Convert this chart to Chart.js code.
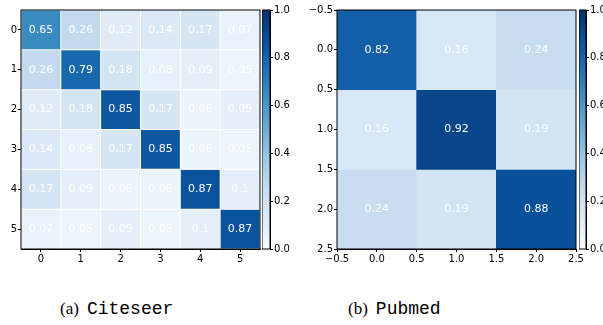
<!DOCTYPE html>
<html>
<head>
<meta charset="utf-8">
<script src="https://cdn.jsdelivr.net/npm/chart.js@4.4.0/dist/chart.umd.min.js"></script>
<style>
    html, body { margin: 0; padding: 0; background: #fff; }
    body { width: 603px; height: 325px; overflow: hidden; position: relative; }
    canvas { position: absolute; top: 0; }
    .caption { position: absolute; top: 300px; font: 17px 'Liberation Serif', serif; color: #000; white-space: nowrap; line-height: 18px; }
    .caption span { font-family: 'Liberation Mono', monospace; font-size: 18px; margin-left: 8px; }
</style>
</head>
<body>
<canvas id="citeseer" width="300" height="270" style="left:0"></canvas>
<canvas id="citeseerBar" width="38" height="270" style="left:262px"></canvas>
<canvas id="pubmed" width="303" height="270" style="left:300px"></canvas>
<canvas id="pubmedBar" width="40" height="270" style="left:579px"></canvas>
<div class="caption" style="left:60px">(a)<span>Citeseer</span></div>
<div class="caption" style="left:348px">(b)<span>Pubmed</span></div>

<script>
// similarity matrices, row by row
const citeseerValues = [
    [0.65, 0.26, 0.12, 0.14, 0.17, 0.07],
    [0.26, 0.79, 0.18, 0.08, 0.09, 0.05],
    [0.12, 0.18, 0.85, 0.17, 0.06, 0.09],
    [0.14, 0.08, 0.17, 0.85, 0.06, 0.05],
    [0.17, 0.09, 0.06, 0.06, 0.87, 0.1],
    [0.07, 0.05, 0.09, 0.05, 0.1, 0.87]
];
const pubmedValues = [
    [0.82, 0.16, 0.24],
    [0.16, 0.92, 0.19],
    [0.24, 0.19, 0.88]
];
const citeseerTicks = [0, 1, 2, 3, 4, 5];
const pubmedTicks = [-0.5, 0, 0.5, 1, 1.5, 2, 2.5];
const colorbarTicks = [0, 0.2, 0.4, 0.6, 0.8, 1.0];

// matplotlib "Blues"
const bluesStops = ['#f7fbff', '#deebf7', '#c6dbef', '#9ecae1', '#6baed6', '#4292c6', '#2171b5', '#08519c', '#08306b'];

function hexRgb(h) {
    return [1, 3, 5].map(i => parseInt(h.slice(i, i + 2), 16));
}

function blues(v) {
    const t = Math.max(0, Math.min(1, v)) * (bluesStops.length - 1);
    const i = Math.min(bluesStops.length - 2, Math.floor(t));
    const f = t - i;
    const a = hexRgb(bluesStops[i]), b = hexRgb(bluesStops[i + 1]);
    const c = a.map((x, k) => Math.round(x + (b[k] - x) * f));
    return `rgb(${c[0]}, ${c[1]}, ${c[2]})`;
}

Chart.defaults.font.family = "'DejaVu Sans', sans-serif";
Chart.defaults.font.size = 10;
Chart.defaults.color = '#000';

const frame = {
    id: 'frame',
    afterDatasetsDraw(chart) {
        const { ctx, chartArea: a } = chart;
        ctx.save();
        ctx.strokeStyle = '#000';
        ctx.lineWidth = 1;
        ctx.strokeRect(a.left, a.top, a.width, a.height);
        ctx.restore();
    }
};

const cellLabels = {
    id: 'cellLabels',
    afterDatasetsDraw(chart) {
        const ctx = chart.ctx;
        ctx.save();
        ctx.fillStyle = '#fff';
        ctx.font = "11px 'DejaVu Sans'";
        ctx.textAlign = 'center';
        ctx.textBaseline = 'middle';
        chart.data.datasets.forEach((ds, i) => {
            chart.getDatasetMeta(i).data.forEach((el, j) => {
                const p = el.getCenterPoint();
                ctx.fillText(String(ds.data[j].v), p.x, p.y);
            });
        });
        ctx.restore();
    }
};

function axis(n, ticks, fmt, reverse, size, isY) {
    return {
        type: 'linear',
        min: -0.5,
        max: n - 0.5,
        reverse: reverse,
        offset: false,
        stacked: !isY,
        afterBuildTicks: s => { s.ticks = ticks.map(value => ({ value })); },
        afterFit: s => { if (isY) s.width = size; else s.height = size; },
        ticks: { callback: fmt, padding: 1, maxRotation: 0, autoSkip: false },
        grid: { drawOnChartArea: false, offset: false, tickLength: 3, color: '#000', tickWidth: 1 },
        border: { display: true, color: '#000', width: 1 }
    };
}

function heatmap(id, values, ticks, fmt, yWidth, padRight, lines) {
    const n = values.length;
    const datasets = values.map((row, r) => ({
        data: row.map((v, c) => ({ x: c, y: [r - 0.5, r + 0.5], v: v })),
        backgroundColor: row.map(blues),
        borderColor: '#fff',
        borderWidth: lines ? 0.8 : 0,
        borderSkipped: false,
        barThickness: 'flex',
        barPercentage: 1,
        categoryPercentage: 1
    }));

    new Chart(document.getElementById(id), {
        type: 'bar',
        data: { datasets },
        options: {
            responsive: false,
            animation: false,
            layout: { padding: { top: 10, right: padRight, left: 0, bottom: 0 } },
            plugins: { legend: { display: false }, tooltip: { enabled: false } },
            scales: {
                x: axis(n, ticks, fmt, false, 21, false),
                y: axis(n, ticks, fmt, true, yWidth, true)
            }
        },
        plugins: [cellLabels, frame]
    });
}

function colorbar(id, yWidth) {
    new Chart(document.getElementById(id), {
        type: 'bar',
        data: {
            labels: [''],
            datasets: [{
                data: [[0, 1]],
                backgroundColor: ctx => {
                    const y = ctx.chart.scales.y;
                    const y0 = y ? y.getPixelForValue(0) : NaN;
                    const y1 = y ? y.getPixelForValue(1) : NaN;
                    if (!isFinite(y0) || !isFinite(y1)) return blues(0.5);
                    const g = ctx.chart.ctx.createLinearGradient(0, y0, 0, y1);
                    bluesStops.forEach((c, i) => g.addColorStop(i / (bluesStops.length - 1), c));
                    return g;
                },
                borderWidth: 0,
                inflateAmount: 0,
                barPercentage: 1,
                categoryPercentage: 1
            }]
        },
        options: {
            responsive: false,
            animation: false,
            layout: { padding: { top: 10, bottom: 21, left: 0, right: 0 } },
            plugins: { legend: { display: false }, tooltip: { enabled: false } },
            scales: {
                x: { display: false },
                y: {
                    position: 'right',
                    min: 0,
                    max: 1,
                    afterBuildTicks: s => { s.ticks = colorbarTicks.map(value => ({ value })); },
                    afterFit: s => { s.width = yWidth; },
                    ticks: { callback: v => v.toFixed(1), padding: 1 },
                    grid: { drawOnChartArea: false, tickLength: 3, color: '#000' },
                    border: { display: true, color: '#000', width: 1 }
                }
            }
        },
        plugins: [frame]
    });
}

heatmap('citeseer', citeseerValues, citeseerTicks, v => String(v), 21, 40, true);
heatmap('pubmed', pubmedValues, pubmedTicks, v => v.toFixed(1).replace('-', '\u2212'), 37, 27, false);
colorbar('citeseerBar', 30);
colorbar('pubmedBar', 33);
</script>
</body>
</html>
